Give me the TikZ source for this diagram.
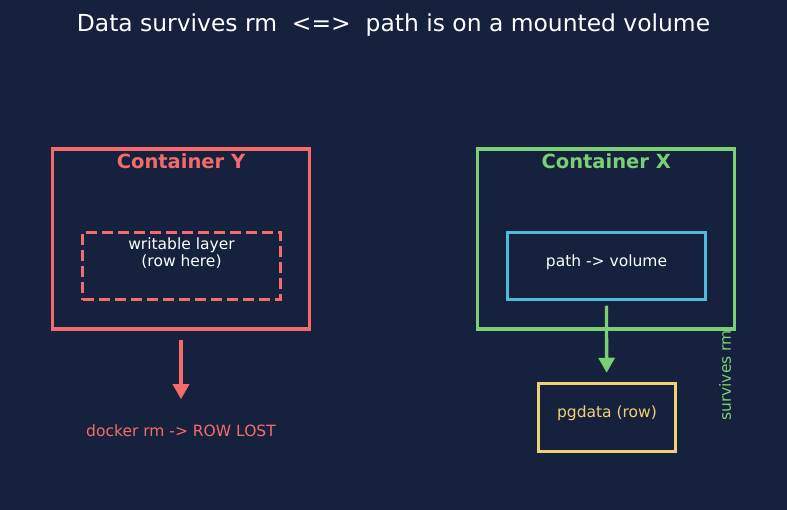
\documentclass[tikz,border=0pt]{standalone}
\usepackage{fontspec}
\setmainfont{DejaVu Sans}
\usetikzlibrary{arrows.meta}
\definecolor{bgc}{HTML}{16213E}
\definecolor{cred}{HTML}{F56B6B}
\definecolor{cgreen}{HTML}{7BCF74}
\definecolor{cblue}{HTML}{4DBBD9}
\definecolor{cyellow}{HTML}{F0D274}
\tikzset{
  box/.style={draw, rectangle, line width=3.5pt, outer sep=0pt, inner sep=0pt},
  bigbox/.style={box, minimum width=257pt, minimum height=180pt},
  smallbox/.style={box, line width=3pt, minimum width=197.5pt, minimum height=67.5pt},
  lbl/.style={inner sep=0pt, outer sep=0pt, font=\fontsize{15.5}{17.6}\selectfont},
  ttl/.style={inner sep=0pt, anchor=base, font=\fontsize{19.5}{22}\selectfont\bfseries},
  arr/.style={line width=3.3pt, -{Triangle[length=15pt,width=16pt]}}
}
\begin{document}
\begin{tikzpicture}[x=1pt,y=-1pt]
\fill[bgc] (0,0) rectangle (787,510);
\useasboundingbox (0,0) rectangle (787,510);

\node[inner sep=0pt, anchor=base, text=white, font=\fontsize{23.4}{26}\selectfont] (title) at (393.5,32)
  {Data survives rm\ \ <=>\ \ path is on a mounted volume};

% Container Y
\node[bigbox, draw=cred] (cy) at (181,239) {};
\node[ttl, text=cred] (cyt) at (181,168.3) {Container Y};
\node[smallbox, draw=cred, dash pattern=on 11pt off 5pt] (wl) at (181.5,266.2) {};
\node[lbl, text=white, align=center, anchor=north] (wlt) at (181.5,237.5) {writable layer\\(row here)};
\node[lbl, anchor=base, text=cred] (lost) at (181,436) {docker rm -> ROW LOST};
\draw[arr, cred, shorten <=11pt, shorten >=25pt] (cy.south) -- (lost.north);

% Container X
\node[bigbox, draw=cgreen] (cx) at (606.2,239) {};
\node[ttl, text=cgreen] (cxt) at (606.2,168.3) {Container X};
\node[smallbox, draw=cblue] (vol) at (606.5,266) {};
\node[lbl, anchor=base, text=white] (volt) at (606.5,266.7) {path -> volume};
\node[box, line width=3pt, draw=cyellow, minimum width=136.7pt, minimum height=67.7pt] (pg) at (606.7,417.2) {};
\node[lbl, anchor=base, text=cyellow] (pgt) at (607,417.5) {pgdata (row)};
\draw[arr, cgreen, shorten <=6pt, shorten >=10.6pt] (vol.south) -- (pg.north);
\node[lbl, anchor=base, rotate=90, text=cgreen] (surv) at (730.8,375.5) {survives rm};
\end{tikzpicture}
\end{document}
